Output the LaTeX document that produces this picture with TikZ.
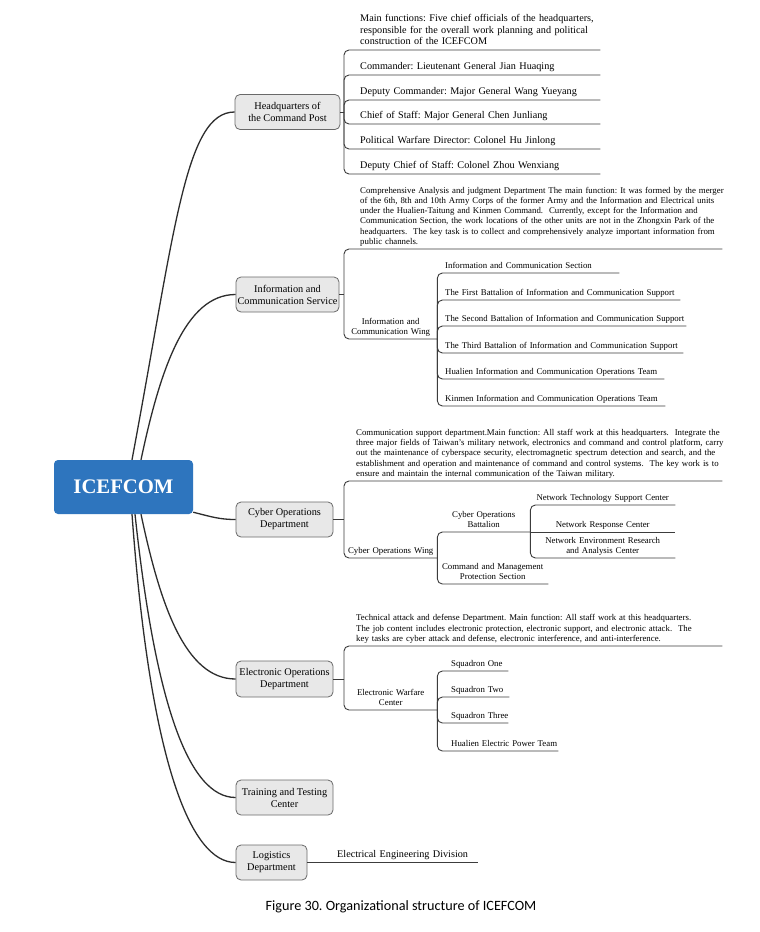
\documentclass[tikz,border=0pt]{standalone}
\usepackage{fontspec}
\setmainfont{Liberation Serif}
\newfontfamily\capfont{Carlito}
\usetikzlibrary{calc}
\definecolor{icefblue}{RGB}{46,117,190}
\definecolor{lonefill}{RGB}{232,232,232}
\definecolor{loneborder}{RGB}{105,105,105}
\definecolor{linecol}{RGB}{60,60,60}
\definecolor{trunkcol}{RGB}{45,45,45}
\newcommand\ulkeep[1]{\mbox{#1}}
\frenchspacing
\begin{document}
\begin{tikzpicture}[x=1pt,y=-1pt,
  lone/.style={draw=loneborder, fill=lonefill, rounded corners=5pt, line width=0.8pt, align=center, inner sep=0pt, font=\fontsize{10.3}{12}\selectfont},
  bigch/.style={anchor=south west, inner xsep=0pt, inner ysep=1.5pt, align=left, font=\fontsize{10.2}{11.5}\selectfont, execute at end node=\strut},
  smch/.style={anchor=south west, inner xsep=0pt, inner ysep=1.2pt, align=left, font=\fontsize{8.8}{10.3}\selectfont, execute at end node=\strut},
  smc/.style={smch, align=center},
  link/.style={draw=linecol, line width=0.9pt, rounded corners=5pt},
  trunk/.style={draw=trunkcol, line width=1.3pt},
]
\useasboundingbox (0,0) rectangle (760,932);
\fill[white] (0,0) rectangle (760,932);

% root
\node[fill=icefblue, rounded corners=4pt, minimum width=139pt, minimum height=54pt, inner sep=0pt, text=white, font=\fontsize{20.7}{24}\selectfont\bfseries] (icef) at (123.5,487) {ICEFCOM};

% level 1
\node[lone, minimum width=105pt, minimum height=35pt] (hq) at (287.5,112) {Headquarters of\\the Command Post};
\node[lone, minimum width=103pt, minimum height=35pt] (info) at (287.5,294.5) {Information and\\Communication Service};
\node[lone, minimum width=97pt, minimum height=35pt] (cyber) at (284.5,519.5) {Cyber Operations\\Department};
\node[lone, minimum width=97pt, minimum height=36pt] (elec) at (284.5,679) {Electronic Operations\\Department};
\node[lone, minimum width=97pt, minimum height=35pt] (train) at (284.5,797.5) {Training and Testing\\Center};
\node[lone, minimum width=71pt, minimum height=35pt] (logi) at (271.5,862.5) {Logistics\\Department};

% trunk curves
\draw[trunk] ([xshift=8.5pt]icef.north) .. controls (175,230) and (185,112) .. (hq.west);
\draw[trunk] ([xshift=17.5pt]icef.north) .. controls (160,370) and (185,294.5) .. (info.west);
\draw[trunk] ([yshift=2pt]icef.south east) .. controls (212,517) and (220,519.5) .. (cyber.west);
\draw[trunk] ([xshift=17.5pt]icef.south) .. controls (160,604) and (185,679) .. (elec.west);
\draw[trunk] ([xshift=11.5pt]icef.south) .. controls (155,701) and (188,797.5) .. (train.west);
\draw[trunk] ([xshift=8.5pt]icef.south) .. controls (150,760) and (190,862.5) .. (logi.west);

% ---------- Headquarters
\coordinate (hqb) at (344,112);
\draw[link] (hq.east) -- (hqb);
\node[bigch, text width=240pt] (hq0) at (360,50) {\ulkeep{Main functions: Five chief officials of the headquarters,}\\\ulkeep{responsible for the overall work planning and political}\\\ulkeep{construction of the ICEFCOM}};
\node[bigch, text width=240pt] (hq1) at (360,75) {\ulkeep{Commander: Lieutenant General Jian Huaqing}};
\node[bigch, text width=240pt] (hq2) at (360,100) {\ulkeep{Deputy Commander: Major General Wang Yueyang}};
\node[bigch, text width=240pt] (hq3) at (360,124) {\ulkeep{Chief of Staff: Major General Chen Junliang}};
\node[bigch, text width=240pt] (hq4) at (360,149) {\ulkeep{Political Warfare Director: Colonel Hu Jinlong}};
\node[bigch, text width=240pt] (hq5) at (360,174) {\ulkeep{Deputy Chief of Staff: Colonel Zhou Wenxiang}};
\foreach \c in {hq0,hq1,hq2,hq3,hq4,hq5} \draw[link] (hqb) |- (\c.south east);

% ---------- Information and Communication Service
\coordinate (infob) at (344,294.5);
\draw[link] (info.east) -- (infob);
\node[smch, text width=362pt] (in0) at (360,249) {\ulkeep{Comprehensive Analysis and judgment Department The main function: It was formed by the merger}\\\ulkeep{of the 6th, 8th and 10th Army Corps of the former Army and the Information and Electrical units}\\\ulkeep{under the Hualien-Taitung and Kinmen Command.\ \ Currently, except for the Information and}\\\ulkeep{Communication Section, the work locations of the other units are not in the Zhongxin Park of the}\\\ulkeep{headquarters.\ \ The key task is to collect and comprehensively analyze important information from}\\\ulkeep{public channels.}};
\node[smc, text width=93pt] (inw) at (344,339) {Information and\\Communication Wing};
\draw[link] (infob) |- (in0.south east);
\draw[link] (infob) |- (inw.south east);
\coordinate (inwb) at (inw.south east);
\node[smch, text width=174pt] (iw1) at (445,273) {\ulkeep{Information and Communication Section}};
\node[smch, text width=235pt] (iw2) at (445,300) {\ulkeep{The First Battalion of Information and Communication Support}};
\node[smch, text width=241pt] (iw3) at (445,326) {\ulkeep{The Second Battalion of Information and Communication Support}};
\node[smch, text width=238pt] (iw4) at (445,353) {\ulkeep{The Third Battalion of Information and Communication Support}};
\node[smch, text width=219pt] (iw5) at (445,379) {\ulkeep{Hualien Information and Communication Operations Team}};
\node[smch, text width=220pt] (iw6) at (445,406) {\ulkeep{Kinmen Information and Communication Operations Team}};
\foreach \c in {iw1,iw2,iw3,iw4,iw5,iw6} \draw[link] (inwb) |- (\c.south east);

% ---------- Cyber Operations Department
\coordinate (cyberb) at (344,519.5);
\draw[link] (cyber.east) -- (cyberb);
\node[smch, text width=366pt] (cy0) at (356,481) {\ulkeep{Communication support department.Main function: All staff work at this headquarters.\ \ Integrate the}\\\ulkeep{three major fields of Taiwan's military network, electronics and command and control platform, carry}\\\ulkeep{out the maintenance of cyberspace security, electromagnetic spectrum detection and search, and the}\\\ulkeep{establishment and operation and maintenance of command and control systems.\ \ The key work is to}\\\ulkeep{ensure and maintain the internal communication of the Taiwan military.}};
\node[smc, text width=93pt] (cyw) at (344,558) {Cyber Operations Wing};
\draw[link] (cyberb) |- (cy0.south east);
\draw[link] (cyberb) |- (cyw.south east);
\coordinate (cywb) at (cyw.south east);
\node[smc, text width=93pt] (cyb) at (437,532) {Cyber Operations\\Battalion};
\node[smc, text width=111pt] (cyc) at (437,584) {Command and Management\\Protection Section};
\draw[link] (cywb) |- (cyb.south east);
\draw[link] (cywb) |- (cyc.south east);
\coordinate (cybb) at (cyb.south east);
\node[smc, text width=145pt] (cb1) at (530,505) {Network Technology Support Center};
\node[smc, text width=145pt] (cb2) at (530,532) {Network Response Center};
\node[smc, text width=145pt] (cb3) at (530,558) {Network Environment Research\\and Analysis Center};
\draw[link] (cybb) |- (cb1.south east);
\draw[link] (cybb) -- (cb2.south east);
\draw[link] (cybb) |- (cb3.south east);

% ---------- Electronic Operations Department
\coordinate (elecb) at (344,679);
\draw[link] (elec.east) -- (elecb);
\node[smch, text width=366pt] (el0) at (356,646) {\ulkeep{Technical attack and defense Department. Main function: All staff work at this headquarters.}\\\ulkeep{The job content includes electronic protection, electronic support, and electronic attack.\ \ The}\\\ulkeep{key tasks are cyber attack and defense, electronic interference, and anti-interference.}};
\node[smc, text width=93pt] (elw) at (344,710) {Electronic Warfare\\Center};
\draw[link] (elecb) |- (el0.south east);
\draw[link] (elecb) |- (elw.south east);
\coordinate (elwb) at (elw.south east);
\node[smch, text width=57pt] (ew1) at (451,671) {\ulkeep{Squadron One}};
\node[smch, text width=58pt] (ew2) at (451,697) {\ulkeep{Squadron Two}};
\node[smch, text width=57pt] (ew3) at (451,723) {\ulkeep{Squadron Three}};
\node[smch, text width=107pt] (ew4) at (451,751) {\ulkeep{Hualien Electric Power Team}};
\foreach \c in {ew1,ew2,ew3,ew4} \draw[link] (elwb) |- (\c.south east);

% ---------- Logistics
\node[bigch, text width=141pt] (lg1) at (337,862.5) {\ulkeep{Electrical Engineering Division}};
\draw[link] (logi.east) -- (lg1.south east);

% caption
\node[font=\capfont\fontsize{14.2}{17}\selectfont] (cap) at (401,907) {Figure 30. Organizational structure of ICEFCOM};
\end{tikzpicture}
\end{document}
